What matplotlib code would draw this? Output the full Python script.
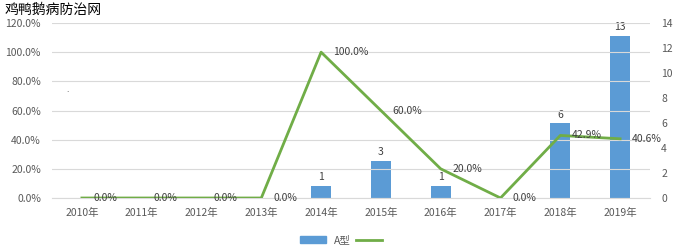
import numpy as np
import matplotlib.pyplot as plt

plt.rcParams['font.family'] = ['Noto Sans CJK SC', 'DejaVu Sans']

years = ['2010年', '2011年', '2012年', '2013年', '2014年', '2015年', '2016年', '2017年', '2018年', '2019年']
counts = [0, 0, 0, 0, 1, 3, 1, 0, 6, 13]
rate = [0.0, 0.0, 0.0, 0.0, 100.0, 60.0, 20.0, 0.0, 42.9, 40.6]

blue = '#5B9BD5'
green = '#70AD47'
tick_col = '#595959'
lab_col = '#404040'

fig = plt.figure(figsize=(6.8, 2.5), dpi=100)
ax = fig.add_axes([52/680, 1-198/250, 598/680, 175/250])
ax2 = ax.twinx()

x = np.arange(len(years))

# bars on the right axis
ax2.bar(x, counts, width=0.34, color=blue, label='A型', zorder=2)
for xi, c in zip(x, counts):
    if c > 0:
        ax2.text(xi, c + 0.25, str(c), ha='center', va='bottom', fontsize=7.5, color=lab_col)
ax2.set_ylim(0, 14)
ax2.set_yticks(range(0, 15, 2))

# line on the left axis, drawn on top
ax.set_zorder(ax2.get_zorder() + 1)
ax.patch.set_visible(False)
ax.plot(x, rate, color=green, lw=2.0, zorder=3)
for xi, r in zip(x, rate):
    ax.text(xi + 0.2, r, f'{r:.1f}%', ha='left', va='center', fontsize=7.5, color=lab_col, zorder=4)

ax.set_ylim(0, 120)
ax.set_yticks(range(0, 121, 20))
ax.set_yticklabels([f'{v:.1f}%' for v in range(0, 121, 20)])
ax.set_xlim(-0.5, len(years) - 0.5)
ax.set_xticks(x)
ax.set_xticklabels(years)

ax.grid(axis='y', color='#D9D9D9', lw=0.8)
ax.set_axisbelow(True)
for a in (ax, ax2):
    for s in a.spines.values():
        s.set_visible(False)
    a.tick_params(length=0, colors=tick_col, labelsize=7.5)
ax.spines['bottom'].set_visible(True)
ax.spines['bottom'].set_color('#D9D9D9')
ax.tick_params(axis='x', pad=7)
ax.tick_params(axis='y', pad=8)
ax2.tick_params(axis='y', pad=8)

fig.text(5/680, 1-10/250, '鸡鸭鹅病防治网', fontsize=10, color='black', va='center', ha='left')
fig.text(66/680, 1-90/250, '.', fontsize=6, color='#404040', va='center')

handles = [plt.Rectangle((0, 0), 1, 1, color=blue), plt.Line2D([0], [0], color=green, lw=2)]
fig.legend(handles, ['A型', ''], loc='center', bbox_to_anchor=(345/680, 1-240/250), ncol=2,
           frameon=False, fontsize=7.5, handlelength=2.5, handleheight=0.6, columnspacing=0.5,
           labelcolor=tick_col)

fig.savefig('out.png', dpi=100)
